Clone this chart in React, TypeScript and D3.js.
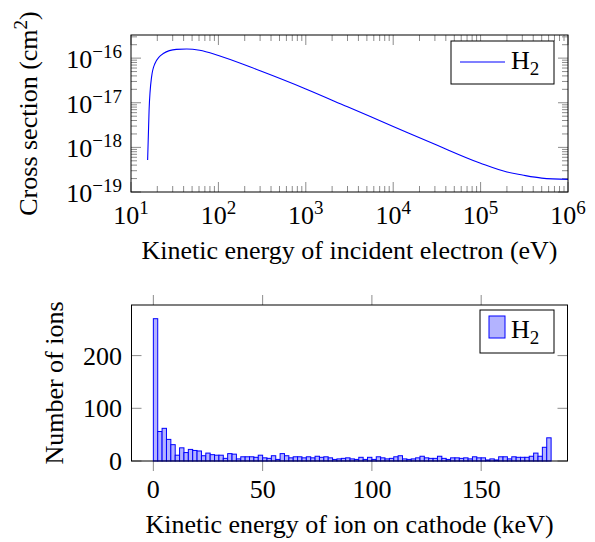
import React from 'react';
import * as d3 from 'd3';

// cross section curve
const energyEv = [15.5, 16.1, 17.2, 18.8, 23.4, 33, 43.5, 61, 100, 300, 1000, 3000, 10000, 30000, 100000, 200000, 300000, 500000, 1000000];
const crossSection = [5.2e-19, 6.7e-18, 3.8e-17, 7.6e-17, 1.27e-16, 1.57e-16, 1.6e-16, 1.5e-16, 1.15e-16, 5.2e-17, 2.04e-17, 8.1e-18, 2.95e-18, 1.17e-18, 4.4e-19, 2.8e-19, 2.4e-19, 2.05e-19, 1.92e-19];

// histogram of ion energies on cathode, 2 keV bins starting at 0
const binWidthKev = 2;
const ionCounts = [
  270, 56, 62, 41, 31, 11, 25, 16, 22, 20, 19, 10, 15, 12, 11, 11, 5, 14, 13, 4, 8, 8, 8, 7, 11,
  6, 5, 10, 3, 14, 10, 6, 8, 8, 6, 8, 6, 9, 7, 8, 6, 3, 4, 5, 6, 4, 3, 7,
  3, 7, 3, 8, 6, 4, 5, 8, 10, 4, 3, 4, 6, 9, 6, 5, 5, 9, 5, 3, 6, 6, 5,
  6, 4, 8, 6, 6, 2, 4, 2, 8, 8, 4, 8, 7, 7, 7, 9, 15, 9, 26, 44,
];

const xExponents = [1, 2, 3, 4, 5, 6];
const yExponents = [-19, -18, -17, -16];
const ionTicks = [0, 50, 100, 150];
const countTicks = [0, 100, 200];

const FONT = 'Liberation Serif';
const FS = 26;
const SUP = 19;
const tickCol = '#8c8c8c';
const txt = { fontFamily: FONT, fontSize: FS };

function logMinors(lo: number, hi: number) {
  const out: number[] = [];
  for (let e = Math.floor(Math.log10(lo)); e <= Math.ceil(Math.log10(hi)); e++) {
    for (let m = 2; m <= 9; m++) {
      const v = m * Math.pow(10, e);
      if (v > lo && v < hi) out.push(v);
    }
  }
  return out;
}

function Pow10({ x, y, exp, anchor }: { x: number; y: number; exp: number; anchor: string }) {
  const sup = exp < 0 ? '\u2212' + Math.abs(exp) : String(exp);
  return (
    <text x={x} y={y} textAnchor={anchor} style={txt}>
      10<tspan style={{ fontSize: SUP }} dy={-10}>{sup}</tspan>
    </text>
  );
}

function TopChart() {
  const L = 131, R = 568, T = 35, B = 192;
  const x = d3.scaleLog().domain([10, 1e6]).range([L, R]);
  const y = d3.scaleLog().domain([1e-19, 3.3e-16]).range([B, T]);
  const pts = energyEv.map((e, i) => [e, crossSection[i]] as [number, number]);
  const line = d3.line<[number, number]>()
    .x(d => x(d[0]))
    .y(d => y(d[1]))
    .curve(d3.curveMonotoneX);
  const xMin = logMinors(10, 1e6);
  const yMin = logMinors(1e-19, 3.3e-16);
  return (
    <g>
      {xExponents.map(e => (
        <g key={'xm' + e}>
          <line x1={x(Math.pow(10, e))} x2={x(Math.pow(10, e))} y1={B} y2={B - 10} stroke={tickCol} />
          <line x1={x(Math.pow(10, e))} x2={x(Math.pow(10, e))} y1={T} y2={T + 10} stroke={tickCol} />
        </g>
      ))}
      {xMin.map(v => (
        <g key={'xn' + v}>
          <line x1={x(v)} x2={x(v)} y1={B} y2={B - 6} stroke={tickCol} />
          <line x1={x(v)} x2={x(v)} y1={T} y2={T + 6} stroke={tickCol} />
        </g>
      ))}
      {yExponents.map(e => (
        <g key={'ym' + e}>
          <line x1={L} x2={L + 10} y1={y(Math.pow(10, e))} y2={y(Math.pow(10, e))} stroke={tickCol} />
          <line x1={R} x2={R - 10} y1={y(Math.pow(10, e))} y2={y(Math.pow(10, e))} stroke={tickCol} />
        </g>
      ))}
      {yMin.map(v => (
        <g key={'yn' + v}>
          <line x1={L} x2={L + 6} y1={y(v)} y2={y(v)} stroke={tickCol} />
          <line x1={R} x2={R - 6} y1={y(v)} y2={y(v)} stroke={tickCol} />
        </g>
      ))}
      <path d={line(pts) || ''} fill="none" stroke="#0000ff" strokeWidth={1.1} />
      <rect x={L} y={T} width={R - L} height={B - T} fill="none" stroke="#000" strokeWidth={1} />
      {xExponents.map(e => (
        <Pow10 key={'xl' + e} x={x(Math.pow(10, e))} y={224} exp={e} anchor="middle" />
      ))}
      {yExponents.map(e => (
        <Pow10 key={'yl' + e} x={122} y={y(Math.pow(10, e)) + 10} exp={e} anchor="end" />
      ))}
      <text x={(L + R) / 2} y={259} textAnchor="middle" style={txt}>
        Kinetic energy of incident electron (eV)
      </text>
      <text transform={`translate(37,${(T + B) / 2}) rotate(-90)`} textAnchor="middle" style={txt}>
        Cross section (cm<tspan style={{ fontSize: SUP }} dy={-10}>2</tspan><tspan dy={10}>)</tspan>
      </text>
      <rect x={451} y={41} width={103} height={43} fill="#fff" stroke="#000" />
      <line x1={460} x2={505} y1={62} y2={62} stroke="#0000ff" strokeWidth={1.1} />
      <text x={511} y={69} style={txt}>
        H<tspan style={{ fontSize: SUP }} dy={6}>2</tspan>
      </text>
    </g>
  );
}

function BottomChart() {
  const L = 131.5, R = 567.5, T = 305, B = 461;
  const x = d3.scaleLinear().domain([-10, 189.5]).range([L, R]);
  const y = d3.scaleLinear().domain([0, 296]).range([B, T]);
  return (
    <g>
      {ionTicks.map(v => (
        <g key={'xt' + v}>
          <line x1={x(v)} x2={x(v)} y1={B} y2={B + 10} stroke={tickCol} />
          <line x1={x(v)} x2={x(v)} y1={T} y2={T - 10} stroke={tickCol} />
          <text x={x(v)} y={498} textAnchor="middle" style={txt}>{v}</text>
        </g>
      ))}
      {countTicks.map(v => (
        <g key={'yt' + v}>
          <line x1={L} x2={L + 10} y1={y(v)} y2={y(v)} stroke={tickCol} />
          <line x1={R} x2={R - 10} y1={y(v)} y2={y(v)} stroke={tickCol} />
          <text x={122} y={y(v) + 9} textAnchor="end" style={txt}>{v}</text>
        </g>
      ))}
      {ionCounts.map((c, i) => (
        <rect
          key={'b' + i}
          x={x(i * binWidthKev)}
          y={y(c)}
          width={x(binWidthKev) - x(0)}
          height={B - y(c)}
          fill="#b3b3ff"
          stroke="#0000ff"
          strokeWidth={1}
        />
      ))}
      <rect x={L} y={T} width={R - L} height={B - T} fill="none" stroke="#000" strokeWidth={1} />
      <text x={(L + R) / 2} y={533} textAnchor="middle" style={txt}>
        Kinetic energy of ion on cathode (keV)
      </text>
      <text transform={`translate(63,${(T + B) / 2}) rotate(-90)`} textAnchor="middle" style={txt}>
        Number of ions
      </text>
      <rect x={480} y={310} width={74} height={43} fill="#fff" stroke="#000" />
      <rect x={489} y={316} width={16} height={22} fill="#b3b3ff" stroke="#0000ff" />
      <text x={511} y={338} style={txt}>
        H<tspan style={{ fontSize: SUP }} dy={6}>2</tspan>
      </text>
    </g>
  );
}

export default function App() {
  return (
    <svg width={595} height={542} style={{ position: 'absolute', left: 0, top: 0, background: '#fff' }}>
      <TopChart />
      <BottomChart />
    </svg>
  );
}
